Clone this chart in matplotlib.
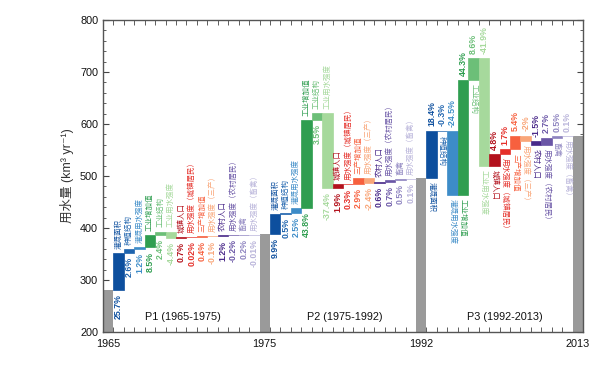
import numpy as np
import matplotlib
matplotlib.use('Agg')
import matplotlib.pyplot as plt

plt.rcParams['font.family'] = ['Liberation Sans', 'Noto Sans CJK SC', 'DejaVu Sans']

# totals at the start / end of each period (km3/yr)
years = ['1965', '1975', '1992', '2013']
totals = [280, 388, 496, 576]
periods = ['P1 (1965-1975)', 'P2 (1975-1992)', 'P3 (1992-2013)']

factors = ['灌溉面积', '种植结构', '灌溉用水强度',
           '工业增加值', '工业结构', '工业用水强度',
           '城镇人口', '用水强度（城镇居民）', '三产增加值', '用水强度（三产）',
           '农村人口', '用水强度（农村居民）', '畜禽', '用水强度（畜禽）']

# contribution of each factor, % of the period's starting water use
p1_pct = [25.7, 2.6, 1.2, 8.5, 2.4, -4.4, 0.7, 0.02, 0.4, -0.1, 1.2, -0.2, 0.2, -0.01]
p2_pct = [9.9, 0.5, 2.5, 43.8, 3.5, -37.4, 1.9, 0.3, 2.9, -2.4, 0.6, 0.7, 0.5, 0.1]
p3_pct = [18.4, -0.3, -24.5, 44.3, 8.6, -41.9, 4.8, 1.7, 5.4, -2, -1.5, 2.7, 0.5, 0.1]

colors = ['#0d4f9e', '#1f64ae', '#3d8cc8',
          '#2f9e50', '#6cbf78', '#a6d99c',
          '#b3121d', '#e5302a', '#f7603e', '#f9a679',
          '#4a2a8a', '#6a56a6', '#8e84c0', '#b9b4da']
gray = '#9a9a9a'

fig = plt.figure(figsize=(6, 3.91), dpi=100)
ax = fig.add_axes([0.1717, 0.1509, 0.8, 0.798])

nf = len(factors)
pcts = [p1_pct, p2_pct, p3_pct]

# gray total bars
for k, v in enumerate(totals):
    ax.bar(k * (nf + 1), v - 200, bottom=200, width=1, color=gray, zorder=2)

for k, pct in enumerate(pcts):
    start = totals[k]
    level = start
    x0 = k * (nf + 1) + 1
    for i, p in enumerate(pct):
        delta = start * p / 100.0
        lo, hi = min(level, level + delta), max(level, level + delta)
        x = x0 + i
        c = colors[i]
        ax.bar(x, hi - lo, bottom=lo, width=1, color=c, edgecolor=c, lw=0.5, zorder=3)
        lab = f'{p:g}%'
        if k < 2:
            ax.annotate(lab, (x, lo), xytext=(0, -3), textcoords='offset points',
                        rotation=90, ha='center', va='top', fontsize=6.3,
                        color=c, fontweight='bold')
            ax.annotate(factors[i], (x, hi), xytext=(0, 3), textcoords='offset points',
                        rotation=90, ha='center', va='bottom', fontsize=5.4,
                        color=c, family=['Noto Sans CJK SC'])
        else:
            ax.annotate(lab, (x, hi), xytext=(0, 3), textcoords='offset points',
                        rotation=90, ha='center', va='bottom', fontsize=6.3,
                        color=c, fontweight='bold')
            ax.annotate(factors[i], (x, lo), xytext=(0, -3), textcoords='offset points',
                        rotation=270, ha='center', va='top', fontsize=5.4,
                        color=c, family=['Noto Sans CJK SC'])
        level += delta

for k, name in enumerate(periods):
    ax.text([7.2, 22.7, 38.0][k], 228, name, ha='center', va='center', fontsize=7.8, color='#111111')

ax.set_xlim(-0.5, 3 * (nf + 1) + 0.5)
ax.set_ylim(200, 800)
ax.set_xticks([k * (nf + 1) for k in range(4)])
ax.set_xticklabels(years)
ax.set_xticks(np.arange(0.5, 3 * (nf + 1)), minor=True)
ax.set_yticks(np.arange(200, 801, 100))
ax.set_yticks(np.arange(200, 801, 20), minor=True)
ax.tick_params(axis='both', which='both', direction='in', top=True, right=True,
               labelsize=7.8, colors='#444444', labelcolor='#111111')
ax.tick_params(axis='x', which='major', length=0, pad=5)
ax.tick_params(axis='x', which='minor', length=3.5)
ax.tick_params(axis='y', which='major', length=4)
ax.tick_params(axis='y', which='minor', length=2)
for s in ax.spines.values():
    s.set_color('#555555')
    s.set_linewidth(1.0)
    s.set_zorder(5)

ax.set_ylabel('用水量 (km³ yr⁻¹)', fontsize=9, color='#333333', labelpad=4)

fig.savefig('out.png', dpi=100)
